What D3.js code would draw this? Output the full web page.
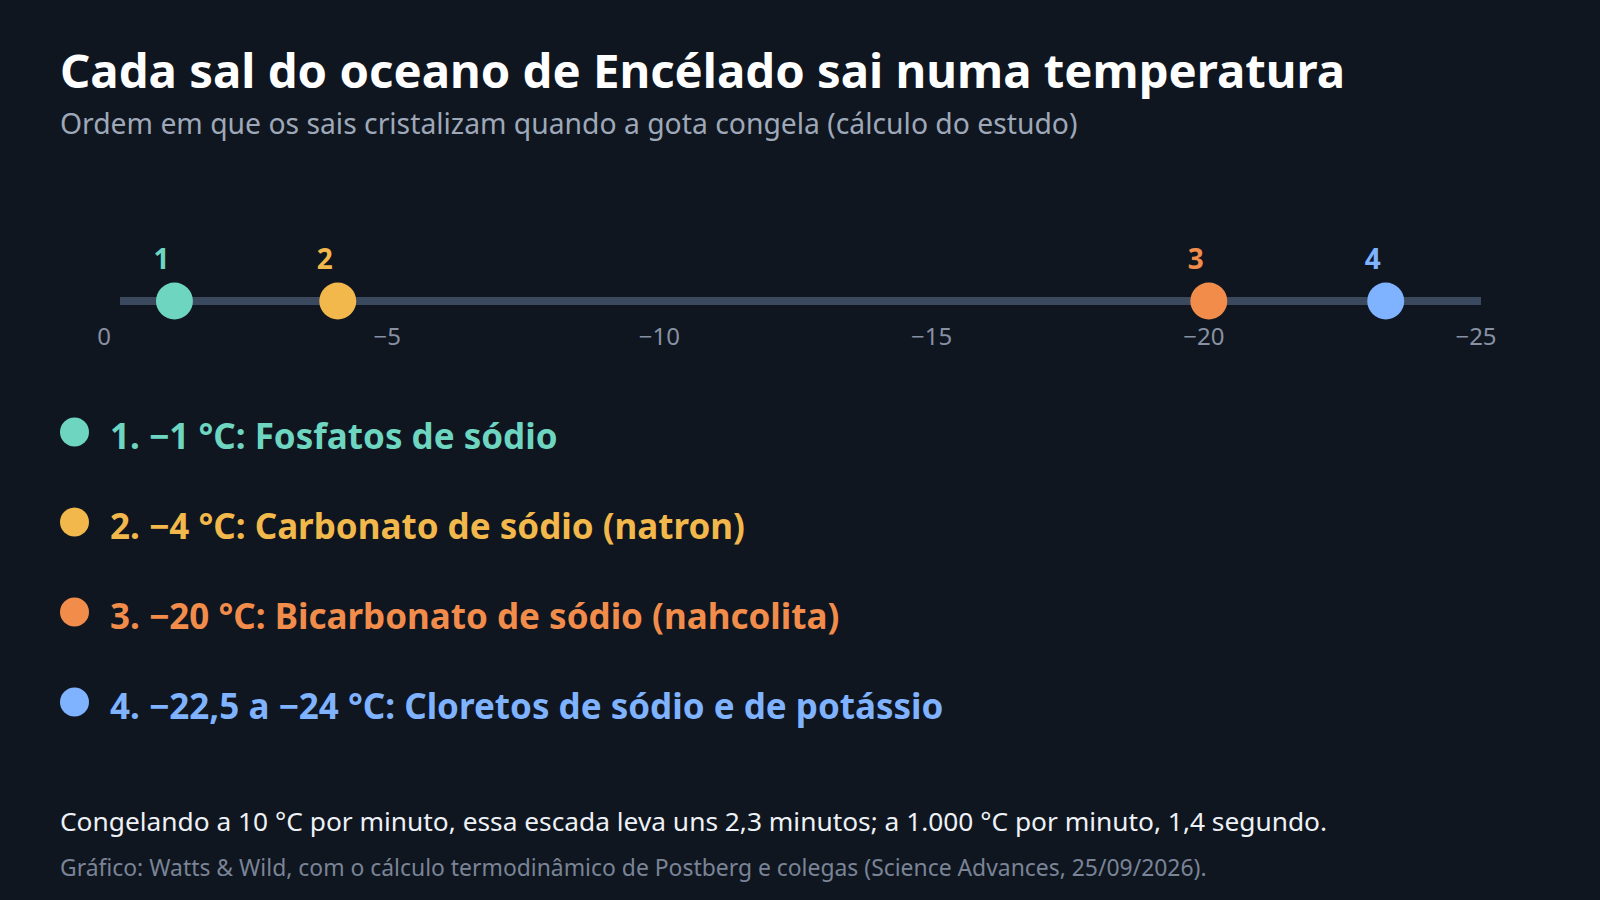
<!DOCTYPE html>
<html>
<head>
<meta charset="utf-8">
<script src="https://cdn.jsdelivr.net/npm/d3@7"></script>
<style>
  html, body { margin: 0; padding: 0; background: #0f1620; }
  svg { display: block; font-family: "Noto Sans", "Open Sans", sans-serif; }
</style>
</head>
<body>
<div id="chart-area"></div>
<script>
const WIDTH = 1600
const HEIGHT = 900

// order in which the salts crystallise
const steps = ["1", "2", "3", "4"]
// temperature of each step (°C); step 4 is the middle of -22.5 .. -24
const temps = [-1, -4, -20, -23.25]
const items = [
  "1. −1 °C: Fosfatos de sódio",
  "2. −4 °C: Carbonato de sódio (natron)",
  "3. −20 °C: Bicarbonato de sódio (nahcolita)",
  "4. −22,5 a −24 °C: Cloretos de sódio e de potássio"
]
const tickValues = [0, -5, -10, -15, -20, -25]

const title = "Cada sal do oceano de Encélado sai numa temperatura"
const subtitle = "Ordem em que os sais cristalizam quando a gota congela (cálculo do estudo)"
const note = "Congelando a 10 °C por minuto, essa escada leva uns 2,3 minutos; a 1.000 °C por minuto, 1,4 segundo."
const source = "Gráfico: Watts & Wild, com o cálculo termodinâmico de Postberg e colegas (Science Advances, 25/09/2026)."

const color = d3.scaleOrdinal()
  .domain(steps)
  .range(["#6dd5c0", "#f2b84b", "#f28c4b", "#7fb2ff"])

const svg = d3.select("#chart-area").append("svg")
  .attr("width", WIDTH)
  .attr("height", HEIGHT)

svg.append("rect")
  .attr("width", WIDTH)
  .attr("height", HEIGHT)
  .attr("fill", "#0f1620")

// title + subtitle
svg.append("text")
  .attr("x", 60)
  .attr("y", 88)
  .attr("font-size", "47.3px")
  .attr("font-weight", 700)
  .attr("fill", "#ffffff")
  .text(title)

svg.append("text")
  .attr("x", 60)
  .attr("y", 134)
  .attr("font-size", "28.3px")
  .attr("fill", "#9ea8b8")
  .text(subtitle)

// temperature scale - goes from 0 down to -25, left to right
const x = d3.scaleLinear()
  .domain([0, -25])
  .range([120, 1481])

const LINE_Y = 301

const axis = svg.append("g")

axis.append("line")
  .attr("x1", x(0))
  .attr("x2", x(-25))
  .attr("y1", LINE_Y)
  .attr("y2", LINE_Y)
  .attr("stroke", "#3a495e")
  .attr("stroke-width", 8)

axis.selectAll(".tick-label")
  .data(tickValues)
  .enter().append("text")
  .attr("class", "tick-label")
  .attr("x", d => x(d) - (d === 0 ? 16 : 5))
  .attr("y", 345)
  .attr("text-anchor", "middle")
  .attr("font-size", "24px")
  .attr("fill", "#8791a3")
  .text(d => d3.format("d")(d))

const steps_g = svg.selectAll(".step")
  .data(steps)
  .enter().append("g")
  .attr("class", "step")

steps_g.append("circle")
  .attr("cx", (d, i) => x(temps[i]))
  .attr("cy", LINE_Y)
  .attr("r", 18.5)
  .attr("fill", d => color(d))

steps_g.append("text")
  .attr("x", (d, i) => x(temps[i]) - 13)
  .attr("y", 269)
  .attr("text-anchor", "middle")
  .attr("font-size", "28px")
  .attr("font-weight", 700)
  .attr("fill", d => color(d))
  .text(d => d)

// legend list
const ROW0 = 432
const ROW_STEP = 90

const legend = svg.selectAll(".item")
  .data(items)
  .enter().append("g")
  .attr("class", "item")
  .attr("transform", (d, i) => `translate(0, ${ROW0 + i * ROW_STEP})`)

legend.append("circle")
  .attr("cx", 74.5)
  .attr("cy", 0)
  .attr("r", 14.5)
  .attr("fill", (d, i) => color(steps[i]))

legend.append("text")
  .attr("x", 110)
  .attr("y", 17)
  .attr("font-size", "35px")
  .attr("font-weight", 700)
  .attr("fill", (d, i) => color(steps[i]))
  .text(d => d)

// footnotes
svg.append("text")
  .attr("x", 60)
  .attr("y", 831)
  .attr("font-size", "26.3px")
  .attr("fill", "#eef1f5")
  .text(note)

svg.append("text")
  .attr("x", 60)
  .attr("y", 876)
  .attr("font-size", "22.9px")
  .attr("fill", "#7a8496")
  .text(source)
</script>
</body>
</html>
